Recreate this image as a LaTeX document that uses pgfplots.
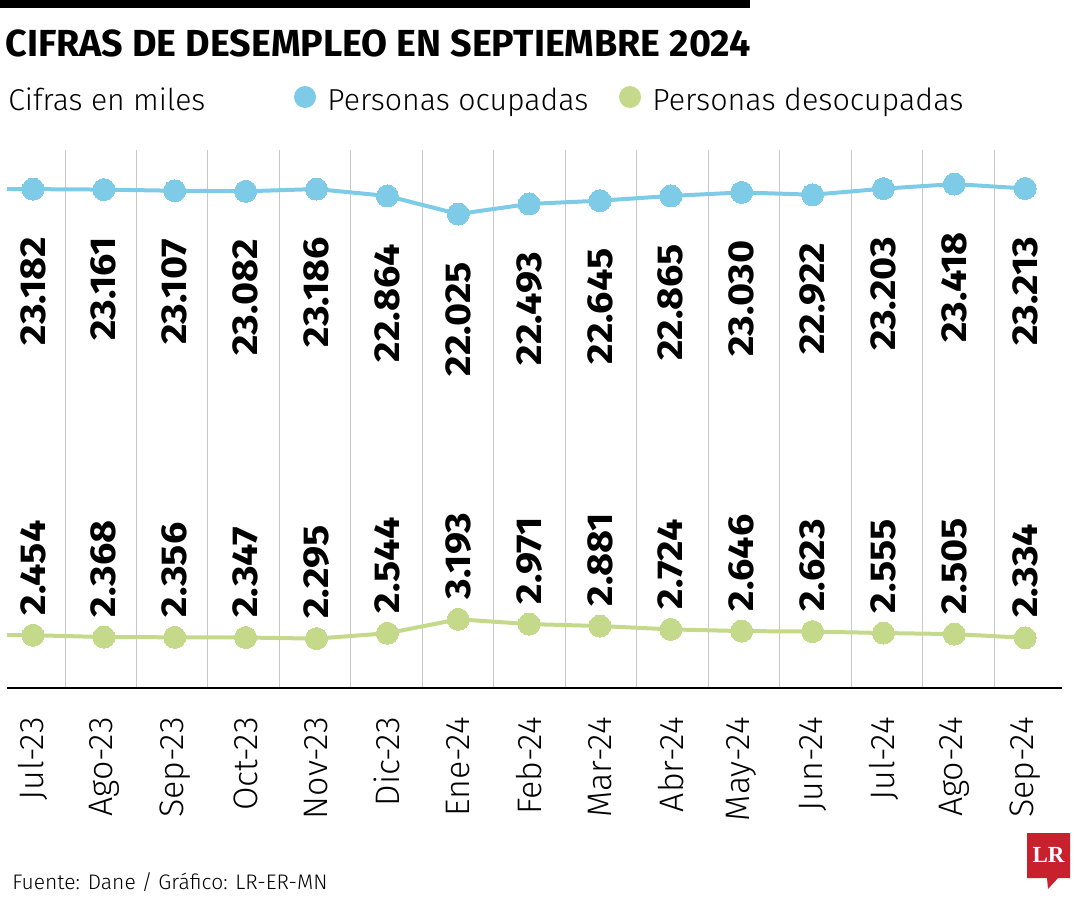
\documentclass[border=0pt]{standalone}
\usepackage{fontspec}
\setmainfont{Fira Sans Light}[BoldFont={Fira Sans Bold}]
\newfontfamily\serifbold{Liberation Serif Bold}
\usepackage{graphicx}
\usepackage{pgfplots}
\usepackage{pgfplotstable}
\pgfplotsset{compat=1.18}
\definecolor{ocup}{HTML}{7DCBE6}
\definecolor{desoc}{HTML}{C4D98A}
\definecolor{lrred}{HTML}{C8202D}
\definecolor{gridgray}{HTML}{C8C8C8}

\pgfplotstableread{
x ocup desoc
0 23.182 2.454
1 23.161 2.368
2 23.107 2.356
3 23.082 2.347
4 23.186 2.295
5 22.864 2.544
6 22.025 3.193
7 22.493 2.971
8 22.645 2.881
9 22.865 2.724
10 23.030 2.646
11 22.922 2.623
12 23.203 2.555
13 23.418 2.505
14 23.213 2.334
}\data

\newcommand{\vallabel}[1]{\rotatebox{90}{\scalebox{1.1}[1]{\bfseries\fontsize{18}{18}\selectfont\pgfmathprintnumber[fixed,fixed zerofill,precision=3,assume math mode=true]{#1}}}}

\begin{document}
\begin{tikzpicture}
\begin{scope}[x=0.5pt,y=-0.5pt]
\path[use as bounding box] (0,0) rectangle (1080,900);
\fill[black] (0,0) rectangle (750,7.5);
\node[anchor=base west, inner sep=0pt] at (5,56) {\resizebox{372.5pt}{!}{\bfseries CIFRAS DE DESEMPLEO EN SEPTIEMBRE 2024}};
\node[anchor=base west, inner sep=0pt] at (8,110) {\resizebox{98.5pt}{!}{Cifras en miles}};
\fill[ocup] (305,97) circle (11);
\node[anchor=base west, inner sep=0pt] at (327,110) {\resizebox{130.5pt}{!}{Personas ocupadas}};
\fill[desoc] (630,97) circle (11);
\node[anchor=base west, inner sep=0pt] at (652,110) {\resizebox{155.5pt}{!}{Personas desocupadas}};
\node[anchor=base west, inner sep=0pt] at (12,889) {\resizebox{157.5pt}{!}{Fuente: Dane / Gráfico: LR-ER-MN}};
\fill[lrred] (1027,833) -- (1070,833) -- (1070,878) -- (1058,878) -- (1048,889) -- (1047,878) -- (1027,878) -- cycle;
\node[anchor=base, inner sep=0pt, text=white] at (1048.5,862) {\resizebox{16pt}{!}{\serifbold LR}};
\end{scope}

\begin{axis}[
  at={(3.5pt,-344pt)}, anchor=south west,
  scale only axis, width=527.5pt, height=269pt,
  xmin=-0.367, xmax=14.52, ymin=0, ymax=25,
  axis x line*=bottom, axis y line=none,
  x axis line style={line width=0.75pt, black, -},
  xtick={0,...,14},
  xticklabels={Jul-23,Ago-23,Sep-23,Oct-23,Nov-23,Dic-23,Ene-24,Feb-24,Mar-24,Abr-24,May-24,Jun-24,Jul-24,Ago-24,Sep-24},
  major tick length=0pt, minor tick length=0pt,
  minor xtick={0.452,1.460,2.469,3.477,4.486,5.494,6.503,7.511,8.520,9.528,10.537,11.545,12.554,13.562},
  xminorgrids, minor grid style={gridgray, line width=0.5pt},
  xticklabel style={rotate=90, anchor=east, inner sep=0pt, font=\fontsize{17}{18}\selectfont},
  xticklabel shift=14.5pt,
  clip=false,
]
\addplot[ocup, line width=2pt, forget plot] coordinates {(-0.367,23.182) (0,23.182)};
\addplot[desoc, line width=2pt, forget plot] coordinates {(-0.367,2.454) (0,2.454)};
\addplot[ocup, line width=2pt, line join=round, mark=*, mark size=5.5pt,
  mark options={fill=ocup, draw=ocup, line width=0pt},
  nodes near coords={\vallabel{\pgfplotspointmeta}},
  every node near coord/.append style={anchor=north, yshift=-24pt, inner sep=0pt, text=black}]
  table[x=x,y=ocup]{\data};
\addplot[desoc, line width=2pt, line join=round, mark=*, mark size=5.5pt,
  mark options={fill=desoc, draw=desoc, line width=0pt},
  nodes near coords={\vallabel{\pgfplotspointmeta}},
  every node near coord/.append style={anchor=south, yshift=10pt, inner sep=0pt, text=black}]
  table[x=x,y=desoc]{\data};
\end{axis}
\end{tikzpicture}
\end{document}
